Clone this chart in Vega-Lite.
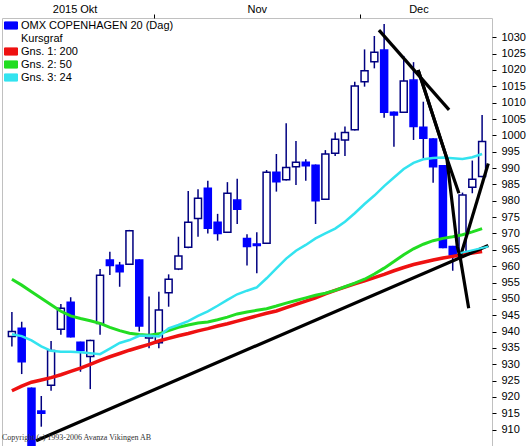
{
  "$schema": "https://vega.github.io/schema/vega-lite/v6.json",
  "width": 490,
  "height": 428,
  "autosize": {"type": "none"},
  "padding": {"left": 2, "top": 18, "right": 36, "bottom": 0},
  "background": "white",
  "config": {
    "view": {"stroke": "#c0c0c0", "strokeWidth": 1},
    "font": "Liberation Sans",
    "axis": {"labelFont": "Liberation Sans", "labelFontSize": 11, "labelColor": "#000000", "tickColor": "#000000", "tickWidth": 1, "domain": false, "grid": false, "labelOverlap": false, "labelFlush": false}
  },
  "title": {"text": "Copyright (c) 1993-2006 Avanza Vikingen AB", "orient": "bottom", "anchor": "start", "frame": "group", "offset": -12, "font": "Liberation Serif", "fontSize": 8, "fontWeight": "normal", "color": "#333333"},
  "datasets": {
    "candles": [
      {"i": 0, "d": "2015-10-12", "o": 938.5, "h": 946.0, "l": 935.4, "c": 940.0, "m1": 921.9, "m2": 956.0, "m3": 939.2},
      {"i": 1, "d": "2015-10-13", "o": 941.0, "h": 943.0, "l": 927.0, "c": 930.8, "m1": 923.3, "m2": 954.2, "m3": 938.6},
      {"i": 2, "d": "2015-10-14", "o": 922.7, "h": 922.9, "l": 903.0, "c": 904.0, "m1": 924.5, "m2": 952.2, "m3": 937.3},
      {"i": 3, "d": "2015-10-15", "o": 915.7, "h": 920.3, "l": 910.9, "c": 915.0, "m1": 925.2, "m2": 950.2, "m3": 935.5},
      {"i": 4, "d": "2015-10-16", "o": 923.6, "h": 937.1, "l": 921.9, "c": 934.2, "m1": 925.9, "m2": 948.2, "m3": 934.1},
      {"i": 5, "d": "2015-10-19", "o": 940.7, "h": 948.4, "l": 939.0, "c": 947.1, "m1": 926.8, "m2": 946.2, "m3": 933.8},
      {"i": 6, "d": "2015-10-20", "o": 949.0, "h": 950.5, "l": 938.2, "c": 938.4, "m1": 927.8, "m2": 944.8, "m3": 933.8},
      {"i": 7, "d": "2015-10-21", "o": 936.7, "h": 936.9, "l": 927.7, "c": 934.2, "m1": 928.8, "m2": 944.0, "m3": 933.7},
      {"i": 8, "d": "2015-10-22", "o": 932.4, "h": 937.5, "l": 922.4, "c": 937.3, "m1": 930.0, "m2": 943.3, "m3": 933.4},
      {"i": 9, "d": "2015-10-23", "o": 942.5, "h": 959.1, "l": 939.0, "c": 957.2, "m1": 931.2, "m2": 942.5, "m3": 933.1},
      {"i": 10, "d": "2015-10-26", "o": 961.9, "h": 964.4, "l": 957.3, "c": 960.2, "m1": 932.3, "m2": 941.3, "m3": 934.8},
      {"i": 11, "d": "2015-10-27", "o": 960.3, "h": 961.3, "l": 953.7, "c": 958.3, "m1": 933.3, "m2": 940.3, "m3": 936.5},
      {"i": 12, "d": "2015-10-28", "o": 960.6, "h": 971.1, "l": 960.4, "c": 970.8, "m1": 934.3, "m2": 939.5, "m3": 937.4},
      {"i": 13, "d": "2015-10-29", "o": 961.9, "h": 962.1, "l": 940.0, "c": 941.7, "m1": 935.2, "m2": 939.1, "m3": 938.7},
      {"i": 14, "d": "2015-10-30", "o": 938.0, "h": 950.7, "l": 934.9, "c": 938.8, "m1": 936.1, "m2": 938.9, "m3": 938.7},
      {"i": 15, "d": "2015-11-02", "o": 936.6, "h": 952.2, "l": 934.9, "c": 946.6, "m1": 937.1, "m2": 939.3, "m3": 938.5},
      {"i": 16, "d": "2015-11-03", "o": 951.9, "h": 957.5, "l": 947.6, "c": 956.0, "m1": 937.9, "m2": 940.3, "m3": 941.0},
      {"i": 17, "d": "2015-11-04", "o": 959.1, "h": 969.0, "l": 958.8, "c": 963.1, "m1": 938.7, "m2": 941.3, "m3": 942.0},
      {"i": 18, "d": "2015-11-05", "o": 965.8, "h": 983.0, "l": 965.5, "c": 973.4, "m1": 939.4, "m2": 942.0, "m3": 943.2},
      {"i": 19, "d": "2015-11-06", "o": 974.6, "h": 983.5, "l": 969.0, "c": 980.8, "m1": 940.2, "m2": 942.6, "m3": 944.8},
      {"i": 20, "d": "2015-11-09", "o": 983.8, "h": 986.1, "l": 970.0, "c": 971.6, "m1": 940.9, "m2": 942.9, "m3": 946.2},
      {"i": 21, "d": "2015-11-10", "o": 973.4, "h": 976.0, "l": 967.8, "c": 970.0, "m1": 941.7, "m2": 943.6, "m3": 947.9},
      {"i": 22, "d": "2015-11-11", "o": 970.4, "h": 985.7, "l": 970.2, "c": 982.3, "m1": 942.4, "m2": 944.4, "m3": 949.7},
      {"i": 23, "d": "2015-11-12", "o": 980.2, "h": 986.7, "l": 972.9, "c": 977.4, "m1": 943.2, "m2": 945.4, "m3": 951.4},
      {"i": 24, "d": "2015-11-13", "o": 968.5, "h": 969.8, "l": 960.2, "c": 966.0, "m1": 944.0, "m2": 946.0, "m3": 952.5},
      {"i": 25, "d": "2015-11-16", "o": 966.8, "h": 970.4, "l": 957.8, "c": 966.3, "m1": 944.8, "m2": 946.5, "m3": 953.5},
      {"i": 26, "d": "2015-11-17", "o": 967.0, "h": 989.4, "l": 966.8, "c": 988.7, "m1": 945.6, "m2": 947.0, "m3": 956.3},
      {"i": 27, "d": "2015-11-18", "o": 988.7, "h": 994.3, "l": 982.8, "c": 985.8, "m1": 946.3, "m2": 947.8, "m3": 959.3},
      {"i": 28, "d": "2015-11-19", "o": 986.4, "h": 1003.7, "l": 986.2, "c": 990.2, "m1": 947.3, "m2": 948.7, "m3": 962.3},
      {"i": 29, "d": "2015-11-20", "o": 990.4, "h": 998.3, "l": 984.8, "c": 991.8, "m1": 948.3, "m2": 949.5, "m3": 964.7},
      {"i": 30, "d": "2015-11-23", "o": 991.8, "h": 992.7, "l": 986.1, "c": 990.7, "m1": 949.3, "m2": 950.3, "m3": 966.5},
      {"i": 31, "d": "2015-11-24", "o": 990.9, "h": 991.1, "l": 972.9, "c": 980.0, "m1": 950.3, "m2": 951.1, "m3": 968.5},
      {"i": 32, "d": "2015-11-25", "o": 980.5, "h": 995.5, "l": 980.3, "c": 994.3, "m1": 951.5, "m2": 951.7, "m3": 970.0},
      {"i": 33, "d": "2015-11-26", "o": 994.5, "h": 1000.9, "l": 993.7, "c": 998.8, "m1": 952.6, "m2": 952.6, "m3": 971.5},
      {"i": 34, "d": "2015-11-27", "o": 998.6, "h": 1002.7, "l": 993.7, "c": 1000.9, "m1": 953.6, "m2": 953.7, "m3": 973.6},
      {"i": 35, "d": "2015-11-30", "o": 1001.7, "h": 1016.4, "l": 1001.5, "c": 1015.1, "m1": 954.6, "m2": 954.8, "m3": 976.2},
      {"i": 36, "d": "2015-12-01", "o": 1016.4, "h": 1026.3, "l": 1014.9, "c": 1019.8, "m1": 955.5, "m2": 956.0, "m3": 979.0},
      {"i": 37, "d": "2015-12-02", "o": 1022.5, "h": 1030.4, "l": 1020.5, "c": 1025.4, "m1": 956.5, "m2": 957.6, "m3": 981.6},
      {"i": 38, "d": "2015-12-03", "o": 1026.1, "h": 1034.1, "l": 1005.4, "c": 1007.1, "m1": 957.5, "m2": 959.4, "m3": 984.5},
      {"i": 39, "d": "2015-12-04", "o": 1007.1, "h": 1007.3, "l": 996.5, "c": 1006.2, "m1": 958.6, "m2": 961.4, "m3": 987.1},
      {"i": 40, "d": "2015-12-07", "o": 1007.1, "h": 1024.3, "l": 1006.9, "c": 1016.6, "m1": 959.6, "m2": 963.5, "m3": 989.7},
      {"i": 41, "d": "2015-12-08", "o": 1016.9, "h": 1022.4, "l": 998.6, "c": 1002.7, "m1": 960.5, "m2": 965.3, "m3": 991.6},
      {"i": 42, "d": "2015-12-09", "o": 1002.5, "h": 1010.3, "l": 993.0, "c": 999.1, "m1": 961.2, "m2": 966.7, "m3": 992.7},
      {"i": 43, "d": "2015-12-10", "o": 998.9, "h": 999.1, "l": 985.5, "c": 990.4, "m1": 961.9, "m2": 967.8, "m3": 993.1},
      {"i": 44, "d": "2015-12-11", "o": 990.7, "h": 990.9, "l": 965.5, "c": 965.7, "m1": 962.5, "m2": 968.5, "m3": 993.2},
      {"i": 45, "d": "2015-12-14", "o": 966.0, "h": 966.2, "l": 958.6, "c": 963.4, "m1": 963.0, "m2": 969.0, "m3": 993.0},
      {"i": 46, "d": "2015-12-15", "o": 964.0, "h": 982.5, "l": 963.8, "c": 981.8, "m1": 963.5, "m2": 969.6, "m3": 992.8},
      {"i": 47, "d": "2015-12-16", "o": 984.1, "h": 992.3, "l": 982.3, "c": 986.6, "m1": 964.0, "m2": 970.5, "m3": 993.3},
      {"i": 48, "d": "2015-12-17", "o": 987.4, "h": 1006.2, "l": 987.2, "c": 998.1, "m1": 964.5, "m2": 971.5, "m3": 994.3}
    ],
    "trend": [
      {"id": "E", "ord": 0, "i": 2.47, "v": 906.6},
      {"id": "E", "ord": 1, "i": 48.63, "v": 966.3},
      {"id": "A", "ord": 0, "i": 37.47, "v": 1032.2},
      {"id": "A", "ord": 1, "i": 44.63, "v": 1007.8},
      {"id": "B", "ord": 0, "i": 41.47, "v": 1020.0},
      {"id": "B", "ord": 1, "i": 44.4, "v": 993.0},
      {"id": "B", "ord": 2, "i": 45.63, "v": 982.3},
      {"id": "C", "ord": 0, "i": 41.47, "v": 1020.0},
      {"id": "C", "ord": 1, "i": 44.4, "v": 993.0},
      {"id": "C", "ord": 2, "i": 45.47, "v": 966.0},
      {"id": "C", "ord": 3, "i": 45.8, "v": 962.0},
      {"id": "C", "ord": 4, "i": 46.63, "v": 947.1},
      {"id": "D", "ord": 0, "i": 45.8, "v": 963.1},
      {"id": "D", "ord": 1, "i": 48.63, "v": 991.4}
    ],
    "cyseg": [
      {"ord": 0, "i": 45.8, "v": 964.0},
      {"ord": 1, "i": 48.63, "v": 966.0}
    ]
  },
  "layer": [
    {
      "data": {"name": "candles"},
      "mark": {"type": "rule", "stroke": "#000080", "strokeWidth": 1.5, "clip": true},
      "encoding": {
        "x": {"field": "i", "type": "quantitative", "title": null,
          "scale": {"domain": [-0.5, 48.5], "nice": false, "zero": false},
          "axis": {"orient": "top", "values": [6.4, 14.5, 25, 35.5, 41.5], "tickSize": 4, "labelPadding": 0, "labelBound": false, "labelOverlap": false,
            "labelExpr": "datum.value == 14.5 || datum.value == 35.5 ? '' : (datum.value < 10 ? '2015 Okt' : (datum.value < 30 ? 'Nov' : 'Dec'))",
            "tickOpacity": {"condition": {"test": "datum.value == 14.5 || datum.value == 35.5", "value": 1}, "value": 0}}},
        "y": {"field": "l", "type": "quantitative", "title": null,
          "scale": {"domain": [905, 1035.9], "nice": false, "zero": false},
          "axis": {"orient": "right", "values": [910, 915, 920, 925, 930, 935, 940, 945, 950, 955, 960, 965, 970, 975, 980, 985, 990, 995, 1000, 1005, 1010, 1015, 1020, 1025, 1030], "format": "d", "tickSize": 4, "labelPadding": 5, "labelOverlap": false, "labelBound": false}},
        "y2": {"field": "h"}
      }
    },
    {
      "data": {"name": "candles"},
      "mark": {"type": "bar", "width": 7, "strokeWidth": 1.5, "clip": true},
      "encoding": {
        "x": {"field": "i", "type": "quantitative", "title": null,
          "axis": {"orient": "top", "values": [6.4, 14.5, 25, 35.5, 41.5], "tickSize": 4, "labelPadding": 0, "labelBound": false, "labelOverlap": false,
            "labelExpr": "datum.value == 14.5 || datum.value == 35.5 ? '' : (datum.value < 10 ? '2015 Okt' : (datum.value < 30 ? 'Nov' : 'Dec'))",
            "tickOpacity": {"condition": {"test": "datum.value == 14.5 || datum.value == 35.5", "value": 1}, "value": 0}}},
        "y": {"field": "o", "type": "quantitative", "title": null,
          "axis": {"orient": "right", "values": [910, 915, 920, 925, 930, 935, 940, 945, 950, 955, 960, 965, 970, 975, 980, 985, 990, 995, 1000, 1005, 1010, 1015, 1020, 1025, 1030], "format": "d", "tickSize": 4, "labelPadding": 5, "labelOverlap": false, "labelBound": false}},
        "y2": {"field": "c"},
        "fill": {"condition": {"test": "datum.c >= datum.o", "value": "#ffffff"}, "value": "#0000ff"},
        "stroke": {"condition": {"test": "datum.c >= datum.o", "value": "#000080"}, "value": "#0000ff"}
      }
    },
    {
      "data": {"name": "candles"},
      "transform": [{"fold": ["m1", "m2", "m3"], "as": ["s", "v"]}],
      "mark": {"type": "line", "clip": true},
      "encoding": {
        "x": {"field": "i", "type": "quantitative", "title": null,
          "axis": {"orient": "top", "values": [6.4, 14.5, 25, 35.5, 41.5], "tickSize": 4, "labelPadding": 0, "labelBound": false, "labelOverlap": false,
            "labelExpr": "datum.value == 14.5 || datum.value == 35.5 ? '' : (datum.value < 10 ? '2015 Okt' : (datum.value < 30 ? 'Nov' : 'Dec'))",
            "tickOpacity": {"condition": {"test": "datum.value == 14.5 || datum.value == 35.5", "value": 1}, "value": 0}}},
        "y": {"field": "v", "type": "quantitative", "title": null,
          "axis": {"orient": "right", "values": [910, 915, 920, 925, 930, 935, 940, 945, 950, 955, 960, 965, 970, 975, 980, 985, 990, 995, 1000, 1005, 1010, 1015, 1020, 1025, 1030], "format": "d", "tickSize": 4, "labelPadding": 5, "labelOverlap": false, "labelBound": false}},
        "color": {"field": "s", "type": "nominal",
          "scale": {"domain": ["omx", "k", "m1", "m2", "m3"], "range": ["#0000ff", "transparent", "#ee1111", "#22dd22", "#33e3ef"]},
          "legend": {"orient": "none", "legendX": 2, "legendY": 0.5, "title": null, "padding": 0, "rowPadding": 0,
            "symbolType": "M-1,-0.55H1V0.55H-1Z", "symbolSize": 169, "labelOffset": 3,
            "labelFont": "Liberation Sans", "labelFontSize": 11, "labelColor": "#000000", "labelLimit": 300,
            "labelExpr": "datum.value == 'omx' ? 'OMX COPENHAGEN 20 (Dag)' : (datum.value == 'k' ? 'Kursgraf' : (datum.value == 'm1' ? 'Gns. 1: 200' : (datum.value == 'm2' ? 'Gns. 2: 50' : 'Gns. 3: 24')))",
            "encode": {"symbols": {"update": {
              "fill": {"scale": "color", "field": "value"},
              "fillOpacity": {"value": 1},
              "opacity": {"value": 1},
              "stroke": {"signal": "datum.value === 'k' ? 'transparent' : '#000000'"},
              "strokeWidth": {"value": 1}}}}}},
        "strokeWidth": {"field": "s", "type": "nominal", "scale": {"domain": ["m1", "m2", "m3"], "range": [3.5, 2.5, 4]}, "legend": null}
      }
    },
    {
      "data": {"name": "trend"},
      "mark": {"type": "line", "stroke": "#000000", "strokeWidth": 3.2, "clip": true},
      "encoding": {
        "x": {"field": "i", "type": "quantitative", "title": null,
          "axis": {"orient": "top", "values": [6.4, 14.5, 25, 35.5, 41.5], "tickSize": 4, "labelPadding": 0, "labelBound": false, "labelOverlap": false,
            "labelExpr": "datum.value == 14.5 || datum.value == 35.5 ? '' : (datum.value < 10 ? '2015 Okt' : (datum.value < 30 ? 'Nov' : 'Dec'))",
            "tickOpacity": {"condition": {"test": "datum.value == 14.5 || datum.value == 35.5", "value": 1}, "value": 0}}},
        "y": {"field": "v", "type": "quantitative", "title": null,
          "axis": {"orient": "right", "values": [910, 915, 920, 925, 930, 935, 940, 945, 950, 955, 960, 965, 970, 975, 980, 985, 990, 995, 1000, 1005, 1010, 1015, 1020, 1025, 1030], "format": "d", "tickSize": 4, "labelPadding": 5, "labelOverlap": false, "labelBound": false}},
        "detail": {"field": "id"},
        "order": {"field": "ord"}
      }
    },
    {
      "data": {"name": "cyseg"},
      "mark": {"type": "line", "stroke": "#33e3ef", "strokeWidth": 2, "clip": true},
      "encoding": {
        "x": {"field": "i", "type": "quantitative", "title": null,
          "axis": {"orient": "top", "values": [6.4, 14.5, 25, 35.5, 41.5], "tickSize": 4, "labelPadding": 0, "labelBound": false, "labelOverlap": false,
            "labelExpr": "datum.value == 14.5 || datum.value == 35.5 ? '' : (datum.value < 10 ? '2015 Okt' : (datum.value < 30 ? 'Nov' : 'Dec'))",
            "tickOpacity": {"condition": {"test": "datum.value == 14.5 || datum.value == 35.5", "value": 1}, "value": 0}}},
        "y": {"field": "v", "type": "quantitative", "title": null,
          "axis": {"orient": "right", "values": [910, 915, 920, 925, 930, 935, 940, 945, 950, 955, 960, 965, 970, 975, 980, 985, 990, 995, 1000, 1005, 1010, 1015, 1020, 1025, 1030], "format": "d", "tickSize": 4, "labelPadding": 5, "labelOverlap": false, "labelBound": false}},
        "order": {"field": "ord"}
      }
    }
  ]
}
